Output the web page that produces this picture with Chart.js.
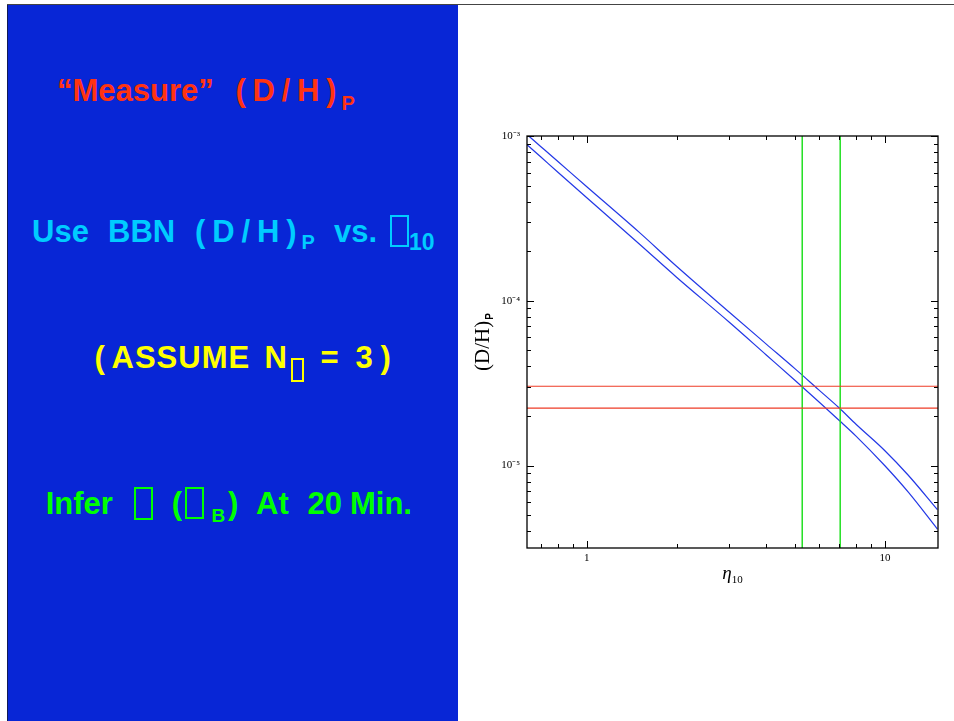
<!DOCTYPE html>
<html>
<head>
<meta charset="utf-8">
<title>(D/H)P vs eta10</title>
<script src="https://cdn.jsdelivr.net/npm/chart.js@4.4.1/dist/chart.umd.min.js"></script>
<style>
  html, body { margin: 0; padding: 0; background: #fff; }
  body { width: 954px; height: 721px; position: relative; overflow: hidden; }
  #topRule { position: absolute; left: 7px; top: 4px; width: 947px; height: 1px; background: #444; }
  #panel { position: absolute; left: 7px; top: 5px; width: 451px; height: 716px; background: #0826d6;
           border-left: 1px solid #111b55; box-sizing: border-box; }
  .t { position: absolute; font-family: "Liberation Sans", Arial, sans-serif; font-weight: bold;
       line-height: 1; white-space: pre; }
  .box { position: absolute; box-sizing: border-box; border: 2px solid; }
  .red { color: #ff3311; } .cyan { color: #00ccff; } .yel { color: #ffff00; } .grn { color: #00ff00; }
  #chartBox { position: absolute; left: 460px; top: 0; width: 494px; height: 721px; }
</style>
</head>
<body>
<div id="topRule"></div>
<div id="panel"></div>

<!-- line 1 -->
<span class="t red" style="left:57px;top:74.8px;font-size:31px">“Measure”</span>
<span class="t red" style="left:235.5px;top:74.8px;font-size:31px;letter-spacing:6.7px">(D/H)</span>
<span class="t red" style="left:341.5px;top:93.1px;font-size:20px">P</span>

<!-- line 2 -->
<span class="t cyan" style="left:32px;top:215.5px;font-size:31px">Use</span>
<span class="t cyan" style="left:108px;top:215.5px;font-size:31px">BBN</span>
<span class="t cyan" style="left:195px;top:215.5px;font-size:31px;letter-spacing:6.9px">(D/H)</span>
<span class="t cyan" style="left:301.5px;top:232.4px;font-size:20px">P</span>
<span class="t cyan" style="left:334px;top:215.5px;font-size:31px">vs.</span>
<span class="box" style="left:390px;top:215px;width:19.3px;height:31.7px;border-color:#00ccff"></span>
<span class="t cyan" style="left:409px;top:230.5px;font-size:23px">10</span>

<!-- line 3 -->
<span class="t yel" style="left:94.5px;top:342.1px;font-size:31px">(</span>
<span class="t yel" style="left:111.5px;top:342.1px;font-size:31px;letter-spacing:1px">ASSUME</span>
<span class="t yel" style="left:264.4px;top:342.1px;font-size:31px">N</span>
<span class="box" style="left:290.7px;top:358px;width:13.3px;height:23.7px;border-color:#ffff00"></span>
<span class="t yel" style="left:320.5px;top:342.1px;font-size:31px">=</span>
<span class="t yel" style="left:355.5px;top:342.1px;font-size:31px">3</span>
<span class="t yel" style="left:380.5px;top:342.1px;font-size:31px">)</span>

<!-- line 4 -->
<span class="t grn" style="left:45.7px;top:487.8px;font-size:31px">Infer</span>
<span class="box" style="left:134.3px;top:487.3px;width:19px;height:32.7px;border-color:#00ff00"></span>
<span class="t grn" style="left:171.8px;top:487.8px;font-size:31px">(</span>
<span class="box" style="left:185px;top:487.3px;width:19px;height:32px;border-color:#00ff00"></span>
<span class="t grn" style="left:211.5px;top:505.6px;font-size:19px">B</span>
<span class="t grn" style="left:228px;top:487.8px;font-size:31px">)</span>
<span class="t grn" style="left:256px;top:487.8px;font-size:31px">At</span>
<span class="t grn" style="left:307.5px;top:487.8px;font-size:31px">20</span>
<span class="t grn" style="left:350px;top:487.8px;font-size:31px">Min.</span>

<div id="chartBox"><canvas id="dhChart"></canvas></div>

<script>
// BBN deuterium band: upper and lower edge of (D/H)P against eta10
const etaGrid = [0.63, 0.7, 0.8, 1, 1.5, 2, 3, 4, 5, 6, 7, 8, 10, 12, 15];
const dhUpper = [1.02e-3, 8.64e-4, 7.0e-4, 4.92e-4, 2.60e-4, 1.62e-4, 8.55e-5, 5.46e-5,
                 3.86e-5, 2.88e-5, 2.25e-5, 1.78e-5, 1.23e-5, 8.70e-6, 5.40e-6];
const dhLower = [8.86e-4, 7.48e-4, 6.03e-4, 4.22e-4, 2.21e-4, 1.39e-4, 7.43e-5, 4.69e-5,
                 3.28e-5, 2.44e-5, 1.89e-5, 1.51e-5, 9.97e-6, 6.87e-6, 4.12e-6];

// measured D/H range (red) and the eta10 range it picks out (green)
const dhObserved = [3.03e-5, 2.23e-5];
const etaBounds = [5.28, 7.08];

const xRange = [0.63, 15.07];
const yRange = [3.16e-6, 1e-3];
const xTickValues = [1, 10];
const xTickLabels = ['1', '10'];
const yTickValues = [1e-5, 1e-4, 1e-3];
const yTickLabels = ['10⁻⁵', '10⁻⁴', '10⁻³'];

const curve = ys => etaGrid.map((x, i) => ({ x: x, y: ys[i] }));

const datasets = [];
dhObserved.forEach(v => {
  datasets.push({ data: [{ x: xRange[0], y: v }, { x: xRange[1], y: v }],
                  borderColor: '#ee3b26', borderWidth: 1.2 });
});
etaBounds.forEach(v => {
  datasets.push({ data: [{ x: v, y: yRange[0] }, { x: v, y: yRange[1] }],
                  borderColor: '#22e022', borderWidth: 1.5 });
});
datasets.push({ data: curve(dhUpper), borderColor: '#2338e6', borderWidth: 1.2,
                cubicInterpolationMode: 'monotone' });
datasets.push({ data: curve(dhLower), borderColor: '#2338e6', borderWidth: 1.2,
                cubicInterpolationMode: 'monotone' });

// box with inward ticks on all four sides, plus the axis titles
const frameTicks = {
  id: 'frameTicks',
  afterDatasetsDraw(chart) {
    const { ctx, chartArea: a, scales: { x, y } } = chart;
    ctx.save();
    ctx.strokeStyle = '#000';
    ctx.lineWidth = 1;
    ctx.beginPath();
    for (let d = -1; d <= 1; d++) {
      for (let m = 1; m <= 9; m++) {
        const v = m * Math.pow(10, d);
        if (v < xRange[0] || v > xRange[1]) continue;
        const px = Math.round(x.getPixelForValue(v)) + 0.5;
        const len = m === 1 ? 7 : 4;
        ctx.moveTo(px, a.bottom); ctx.lineTo(px, a.bottom - len);
        ctx.moveTo(px, a.top); ctx.lineTo(px, a.top + len);
      }
    }
    for (let d = -6; d <= -3; d++) {
      for (let m = 1; m <= 9; m++) {
        const v = m * Math.pow(10, d);
        if (v < yRange[0] || v > yRange[1] * 1.0001) continue;
        const py = Math.round(y.getPixelForValue(v)) + 0.5;
        const len = m === 1 ? 7 : 4;
        ctx.moveTo(a.left, py); ctx.lineTo(a.left + len, py);
        ctx.moveTo(a.right, py); ctx.lineTo(a.right - len, py);
      }
    }
    ctx.stroke();
    ctx.lineWidth = 1.3;
    ctx.strokeRect(a.left, a.top, a.right - a.left, a.bottom - a.top);

    // y title (D/H)P, rotated
    ctx.fillStyle = '#000';
    ctx.textBaseline = 'alphabetic';
    ctx.translate(29, (a.top + a.bottom) / 2);
    ctx.rotate(-Math.PI / 2);
    ctx.font = '21px "Liberation Serif"';
    const mainW = ctx.measureText('(D/H)').width;
    ctx.font = 'bold 10px "Liberation Sans"';
    const subW = ctx.measureText('P').width;
    const start = -(mainW + subW + 1) / 2;
    ctx.font = '21px "Liberation Serif"';
    ctx.fillText('(D/H)', start, 0);
    ctx.font = 'bold 10px "Liberation Sans"';
    ctx.fillText('P', start + mainW + 1, 4);
    ctx.setTransform(1, 0, 0, 1, 0, 0);

    // x title eta10
    ctx.font = 'italic 19px "Liberation Serif"';
    const etaW = ctx.measureText('η').width;
    ctx.font = '11px "Liberation Serif"';
    const tenW = ctx.measureText('10').width;
    const cx = (a.left + a.right) / 2;
    const x0 = cx - (etaW + tenW) / 2;
    ctx.font = 'italic 19px "Liberation Serif"';
    ctx.fillText('η', x0, 578.5);
    ctx.font = '11px "Liberation Serif"';
    ctx.fillText('10', x0 + etaW, 582.7);
    ctx.restore();
  }
};

new Chart(document.getElementById('dhChart'), {
  type: 'line',
  data: { datasets: datasets },
  options: {
    responsive: true,
    maintainAspectRatio: false,
    animation: false,
    clip: 0,
    elements: { point: { radius: 0 }, line: { tension: 0, fill: false } },
    layout: { padding: { left: 0, top: 136, right: 16, bottom: 0 } },
    plugins: { legend: { display: false }, tooltip: { enabled: false }, title: { display: false } },
    scales: {
      x: {
        type: 'logarithmic',
        bounds: 'data',
        min: xRange[0],
        max: xRange[1],
        grid: { display: false, drawTicks: false },
        border: { display: false },
        afterBuildTicks: s => { s.ticks = xTickValues.map(v => ({ value: v })); },
        afterFit: s => { s.height = 173; },
        ticks: {
          autoSkip: false,
          maxRotation: 0,
          padding: 4,
          color: '#000',
          font: { family: '"Liberation Serif"', size: 11 },
          callback: v => xTickLabels[xTickValues.indexOf(v)] || ''
        }
      },
      y: {
        type: 'logarithmic',
        bounds: 'data',
        min: yRange[0],
        max: yRange[1],
        grid: { display: false, drawTicks: false },
        border: { display: false },
        afterBuildTicks: s => { s.ticks = yTickValues.map(v => ({ value: v })); },
        afterFit: s => { s.width = 67; },
        ticks: {
          autoSkip: false,
          padding: 7,
          color: '#000',
          font: { family: '"Liberation Serif"', size: 11 },
          callback: v => yTickLabels[yTickValues.indexOf(v)] || ''
        }
      }
    }
  },
  plugins: [frameTicks]
});
</script>
</body>
</html>
